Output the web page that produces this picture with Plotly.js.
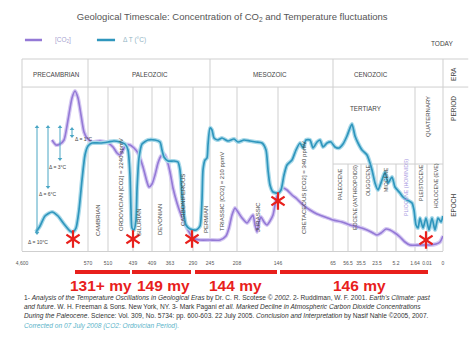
<!DOCTYPE html>
<html><head><meta charset="utf-8">
<script src="https://cdn.plot.ly/plotly-3.0.1.min.js"></script>
<style>html,body{margin:0;padding:0;background:#fff}#chart{width:470px;height:352px}</style>
</head><body><div id="chart"></div>
<script>
// Non-linear geological timescale: positions along the strip and their ages (million years ago)
const tickPositions = [22, 88, 108, 133, 152, 170, 193, 210, 237, 278, 333, 348, 361, 377, 396, 415, 427, 443];
const tickAges = ['4,600','570','510','439','409','363','290','245','208','146','65','56.5','35.5','23.5','5.2','1.64','0.01','0'];

// Temperature fluctuation (ΔT) curve: position along strip, relative level
const tempX = [36,40,45,52,58,64,70,73,76,79, 82,85,88,92,100,108,114,120,125,128,
  130,131,132,134,136,137,139,142,148,155, 160,162,164,168,174,178,180,182,184,186,
  190,196,200,202,203,205,207,208,210,212, 214,218,222,228,234,238,244,250,256,262,
  266,268,270,273,278,281,284,287,292,296, 300,303,306,310,313,317,320,323,327,331,
  335,339,343,347,350,352,355,358,362,367, 370,372,375,378,382,385,388,392,395,400,
  403,407,412,414,416,418,420,423,426,429, 432,435,438,441,443];
const tempY = [19,25,35,39,35,27,20,19,23,41, 71,96,105,108,108,109,110,109,107,101,
  76,41,23,21,31,61,93,107,111,111, 109,101,94,90,90,89,81,56,36,26,
  22,21,25,51,81,91,93,106,123,121, 113,111,113,110,112,109,111,110,109,108,
  101,81,66,59,58,61,76,86,91,101, 108,103,111,111,103,109,111,104,108,109,
  104,103,107,115,123,127,115,108,101,96, 88,81,68,61,71,79,68,74,64,58,
  54,51,48,41,26,23,33,23,33,21, 33,21,33,29,35];

// CO2 concentration curve
const co2X = [52,56,60,64,68,72,75,78,81,84, 87,92,100,108,113,117,120,123,126,130,
  134,138,143,147,149,152,155,158,161,164, 167,170,173,177,180,184,188,193,200,210,
  220,226,229,232,235,238,242,247,250,253, 255,257,259,261,264,267,270,273,276,279,
  283,287,292,297,303,310,317,325,333,342, 350,358,367,373,377,381,386,390,395,400,
  405,410,420,430,436,440,443];
const co2Y = [111,106,107,111,131,153,160,153,136,119, 113,109,110,108,104,98,96,101,106,106,
  103,98,84,69,64,67,76,88,95,97, 91,79,63,48,39,29,21,13,11,11,
  11,15,23,36,43,39,33,28,32,36, 26,19,29,34,29,26,30,36,51,59,
  63,61,56,52,46,41,37,34,31,29, 26,24,21,18,16,18,22,21,18,14,
  9,6,6,6,7,9,15];

// Mass-extinction markers and the intervals between them
const markerX = [73, 133, 192, 278, 426];
const markerY = [12, 12, 12, 50, 11];
const intervalStart = [75, 132, 195, 280];
const intervalEnd = [130, 191, 277, 428];
const intervalLabels = ['131+ my', '149 my', '144 my', '146 my'];
const intervalLabelX = [101, 163, 235, 359];

// Eras, periods and epochs
const eraNames = ['PRECAMBRIAN', 'PALEOZOIC', 'MESOZOIC', 'CENOZOIC'];
const eraLabelX = [56, 150, 270, 371];
const eraBounds = [88, 210, 333];
const periodBounds = [108, 133, 152, 170, 193, 237, 278, 415];
const epochBounds = [348, 361, 377, 396, 427];
const periodNames = ['CAMBRIAN', 'ORDOVICIAN [CO2] = 2240 ppmV', 'SILURIAN', 'DEVONIAN', 'CARBONIFEROUS', 'PERMIAN',
  'TRIASSIC [CO2] = 210 ppmV', 'JURASSIC', 'CRETACEOUS [CO2] = 340 ppmV'];
const periodLabelX = [98, 121, 139, 160, 183, 206, 222, 258, 304];
const periodLabelY = [31, 66, 29, 31, 51, 31, 59, 34, 63];
const epochNames = ['PALEOCENE', 'EOCENE (ANTHROPOIDS)', 'OLIGOCENE', 'MIOCENE', 'PLIOCENE (HOMINIDS)', 'PLEISTOCENE', 'HOLOCENE (EVE)'];
const epochLabelX = [340, 355, 368, 386, 406, 421, 436];
const epochLabelY = [67, 53, 70, 71, 63, 68, 65];

// Temperature-range arrows in the Precambrian
const rangeX = [37, 48, 60, 72];
const rangeTop = [124, 124, 124, 122];
const rangeBottom = [18, 64, 92, 115];
const rangeLabels = ['Δ = 10°C', 'Δ = 6°C', 'Δ = 3°C', 'Δ = 1°C'];
const rangeLabelX = [38, 48, 58, 84];
const rangeLabelY = [9, 57, 84, 112];

const FONT = 'Liberation Sans, Arial, sans-serif';
const GRID = '#cfcfcf';
const BLUE = '#2f96bd', BLUE_HALO = '#a9d9e9';
const PURPLE = '#9479d6', PURPLE_HALO = '#d5c9f2';
const RED = '#e8201c';
const ARROW = '#4aa6c4';

const traces = [
  {x: co2X, y: co2Y, mode: 'lines', line: {color: PURPLE_HALO, width: 4, shape: 'spline', smoothing: 0.6}, hoverinfo: 'skip'},
  {x: co2X, y: co2Y, mode: 'lines', name: '[CO2]', line: {color: PURPLE, width: 1.6, shape: 'spline', smoothing: 0.6}},
  {x: tempX, y: tempY, mode: 'lines', line: {color: BLUE_HALO, width: 4.2, shape: 'spline', smoothing: 0.6}, hoverinfo: 'skip'},
  {x: tempX, y: tempY, mode: 'lines', name: 'ΔT (°C)', line: {color: BLUE, width: 1.7, shape: 'spline', smoothing: 0.6}},
  {x: rangeX, y: rangeTop, mode: 'markers', marker: {symbol: 'triangle-up', size: 4, color: ARROW}},
  {x: rangeX, y: rangeBottom, mode: 'markers', marker: {symbol: 'triangle-down', size: 4, color: ARROW}},
  {x: markerX, y: markerY, mode: 'markers', marker: {symbol: 'y-up-open', size: 11, color: RED, line: {color: RED, width: 2.2}}},
  {x: markerX, y: markerY, mode: 'markers', marker: {symbol: 'y-down-open', size: 11, color: RED, line: {color: RED, width: 2.2}}}
];

const shapes = [];
const ln = (o) => shapes.push(Object.assign({type: 'line', line: {color: GRID, width: 1}, layer: 'below'}, o));
// frame
ln({xref: 'paper', yref: 'paper', x0: 0, x1: 1.06, y0: 1, y1: 1});
ln({xref: 'paper', yref: 'paper', x0: 0, x1: 1.06, y0: 0.854, y1: 0.854});
ln({xref: 'paper', yref: 'paper', x0: 0, x1: 0, y0: 0, y1: 1});
ln({xref: 'paper', yref: 'paper', x0: 1, x1: 1, y0: 0, y1: 1});
eraBounds.forEach(b => ln({xref: 'x', yref: 'paper', x0: b, x1: b, y0: 0, y1: 1}));
periodBounds.forEach(b => ln({xref: 'x', yref: 'paper', x0: b, x1: b, y0: 0, y1: 0.854}));
epochBounds.forEach(b => ln({xref: 'x', yref: 'paper', x0: b, x1: b, y0: 0, y1: 0.453}));
ln({xref: 'x', yref: 'paper', x0: eraBounds[2], x1: 443, y0: 0.453, y1: 0.453});
// temperature-range arrow shafts
rangeX.forEach((x, i) => shapes.push({type: 'line', xref: 'x', yref: 'y', x0: x, x1: x, y0: rangeBottom[i], y1: rangeTop[i], line: {color: ARROW, width: 1}}));
// legend samples
shapes.push({type: 'line', xref: 'paper', yref: 'paper', x0: 0.007, x1: 0.0475, y0: 1.099, y1: 1.099, line: {color: PURPLE, width: 2.5}});
shapes.push({type: 'line', xref: 'paper', yref: 'paper', x0: 0.178, x1: 0.221, y0: 1.099, y1: 1.099, line: {color: BLUE, width: 2.5}});
// interval bars
intervalStart.forEach((s, i) => shapes.push({type: 'line', xref: 'x', yref: 'paper', x0: s, x1: intervalEnd[i], y0: -0.109, y1: -0.109, line: {color: RED, width: 4}}));

const ann = [];
const txt = (o) => ann.push(Object.assign({showarrow: false, xanchor: 'center', yanchor: 'middle', font: {family: FONT, size: 6, color: '#444'}}, o));
eraNames.forEach((n, i) => txt({text: n, x: eraLabelX[i], y: 177, xref: 'x', yref: 'y', font: {family: FONT, size: 6.3, color: '#444'}}));
periodNames.forEach((n, i) => txt({text: n, x: periodLabelX[i], y: periodLabelY[i], xref: 'x', yref: 'y', textangle: -90}));
epochNames.forEach((n, i) => txt({text: n, x: epochLabelX[i], y: epochLabelY[i], xref: 'x', yref: 'y', textangle: -90,
  font: {family: FONT, size: 5.2, color: n.startsWith('PLIOCENE') ? '#a595e0' : '#444'}}));
txt({text: 'TERTIARY', x: 366, y: 143, xref: 'x', yref: 'y', font: {family: FONT, size: 6.3, color: '#444'}});
txt({text: 'QUATERNARY', x: 428, y: 134, xref: 'x', yref: 'y', textangle: -90, font: {family: FONT, size: 6, color: '#444'}});
txt({text: 'ERA', x: 1.026, y: 0.922, xref: 'paper', yref: 'paper', textangle: -90, font: {family: FONT, size: 6.5, color: '#444'}});
txt({text: 'PERIOD', x: 1.026, y: 0.745, xref: 'paper', yref: 'paper', textangle: -90, font: {family: FONT, size: 6.5, color: '#444'}});
txt({text: 'EPOCH', x: 1.026, y: 0.24, xref: 'paper', yref: 'paper', textangle: -90, font: {family: FONT, size: 6.5, color: '#444'}});
txt({text: 'TODAY', x: 0.998, y: 1.083, xref: 'paper', yref: 'paper', font: {family: FONT, size: 6.5, color: '#444'}});
txt({text: '[CO<sub>2</sub>]', x: 0.0736, y: 1.099, xref: 'paper', yref: 'paper', xanchor: 'left', font: {family: FONT, size: 6.5, color: '#a89fd0'}});
txt({text: 'Δ T (°C)', x: 0.235, y: 1.099, xref: 'paper', yref: 'paper', xanchor: 'left', font: {family: FONT, size: 6.5, color: '#8fb4c4'}});
rangeLabels.forEach((t, i) => txt({text: t, x: rangeLabelX[i], y: rangeLabelY[i], xref: 'x', yref: 'y', font: {family: FONT, size: 5, color: '#444'}}));
intervalLabels.forEach((t, i) => txt({text: '<b>' + t + '</b>', x: intervalLabelX[i], y: -0.18, xref: 'x', yref: 'paper',
  font: {family: FONT, size: 15.5, color: RED}}));

const notes = [
  "1- <i>Analysis of the Temperature Oscillations in Geological Eras</i> by Dr. C. R. Scotese © <i>2002</i>. 2- Ruddiman, W. F. 2001. <i>Earth's Climate: past</i>",
  "<i>and future</i>. W. H. Freeman &amp; Sons. New York, NY. 3- Mark Pagani <i>et all. Marked Decline in Atmospheric Carbon Dioxide Concentrations</i>",
  "<i>During the Paleocene</i>. Science: Vol. 309, No. 5734: pp. 600-603. 22 July 2005. <i>Conclusion and Interpretation</i> by Nasif Nahle ©2005, 2007.",
  "<i>Corrected on 07 July 2008 (CO2: Ordovician Period).</i>"
];
const noteY = [-0.245, -0.292, -0.339, -0.391];
notes.forEach((t, i) => txt({text: t, x: 0, y: noteY[i], xref: 'paper', yref: 'paper', xanchor: 'left',
  font: {family: FONT, size: 6.6, color: i === 3 ? '#5ab3c9' : '#333'}}));

const layout = {
  width: 470, height: 352,
  margin: {l: 22, r: 27, t: 59, b: 101},
  paper_bgcolor: '#fff', plot_bgcolor: '#fff',
  showlegend: false,
  title: {text: 'Geological Timescale: Concentration of CO<sub>2</sub> and Temperature fluctuations',
    x: 0.494, xanchor: 'center', y: 0.952, yanchor: 'middle', font: {family: FONT, size: 9.5, color: '#555'}},
  xaxis: {range: [22, 443], tickvals: tickPositions, ticktext: tickAges, ticks: '', showgrid: false, zeroline: false,
    showline: true, linecolor: GRID, linewidth: 1, tickfont: {family: FONT, size: 5, color: '#555'}, ticklabelstandoff: 7, fixedrange: true},
  yaxis: {range: [0, 192], showgrid: false, zeroline: false, showticklabels: false, showline: false, fixedrange: true},
  shapes: shapes,
  annotations: ann
};
Plotly.newPlot('chart', traces, layout, {displayModeBar: false, staticPlot: true});
</script></body></html>
